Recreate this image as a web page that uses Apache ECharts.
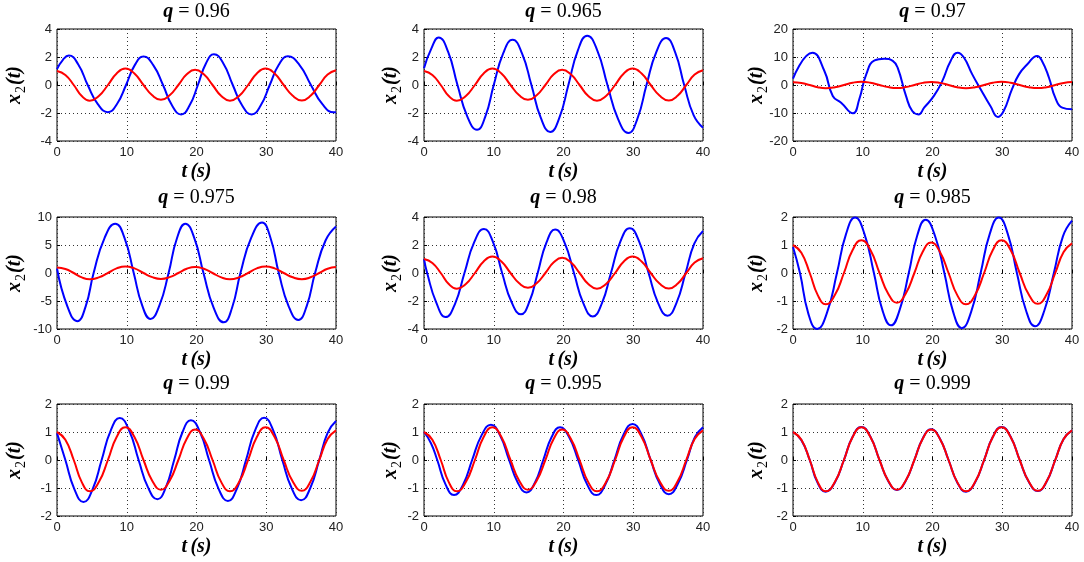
<!DOCTYPE html>
<html><head><meta charset="utf-8">
<script src="https://cdn.jsdelivr.net/npm/echarts@6/dist/echarts.min.js"></script>
<style>html,body{margin:0;padding:0;background:#fff}#c{width:1084px;height:562px}</style>
</head><body><div id="c"></div>
<script>
// ---- data ----
const qLabels = ['0.96', '0.965', '0.97', '0.975', '0.98', '0.985', '0.99', '0.995', '0.999'];
const yMins = [-4, -4, -20, -10, -4, -2, -2, -2, -2];
const yMaxs = [4, 4, 20, 10, 4, 2, 2, 2, 2];
const ySteps = [2, 2, 10, 5, 2, 1, 1, 1, 1];
const xMin = 0, xMax = 40, xStep = 10;

// red (reference) curve [t, x2]
const redCurve = [[0,1.0],[1.2,0.72],[2.4,0],[3.55,-0.79],[4.7,-1.12],[6.0,-0.79],[7.3,0],[8.55,0.82],[9.8,1.17],[11.1,0.82],[12.4,0],[13.65,-0.74],[14.9,-1.06],[16.15,-0.74],[17.4,0],[18.6,0.76],[19.8,1.09],[21.05,0.76],[22.3,0],[23.55,-0.79],[24.8,-1.12],[26.1,-0.79],[27.4,0],[28.65,0.82],[29.9,1.17],[31.2,0.82],[32.5,0],[33.8,-0.77],[35.1,-1.1],[36.35,-0.77],[37.6,0],[38.8,0.75],[40,1.06]];

// blue curves [t, x2]
const blue096 = [[0,1.13],[0.85,1.8],[1.7,2.1],[3.05,1.47],[4.4,0],[5.85,-1.36],[7.3,-1.94],[8.6,-1.36],[9.9,0],[11.15,1.42],[12.4,2.03],[13.8,1.42],[15.2,0],[16.5,-1.47],[17.8,-2.1],[19.0,-1.47],[20.2,0],[21.35,1.54],[22.5,2.2],[23.85,1.54],[25.2,0],[26.55,-1.47],[27.9,-2.1],[29.2,-1.47],[30.5,0],[31.8,1.44],[33.1,2.05],[34.75,1.44],[36.4,0],[38.05,-1.37],[39.7,-1.95],[40,-1.94]];
const blue0965 = [[0,1.2],[1.05,2.6],[2.1,3.4],[3.45,2.38],[4.8,0],[6.2,-2.24],[7.6,-3.2],[8.8,-2.24],[10.0,0],[11.35,2.26],[12.7,3.23],[14.05,2.26],[15.4,0],[16.75,-2.35],[18.1,-3.35],[19.4,-2.35],[20.7,0],[22.05,2.46],[23.4,3.52],[24.85,2.46],[26.3,0],[27.8,-2.4],[29.3,-3.43],[30.6,-2.4],[31.9,0],[33.3,2.35],[34.7,3.35],[36.0,2.35],[37.3,0],[38.65,-2.15],[40,-3.05]];
const blue097 = [[0,2.3],[2.8,11.5],[4.5,5.0],[5.7,-3.9],[6.9,-6.3],[8.6,-10.1],[9.5,-5.1],[10.5,3.8],[11.7,8.8],[13.1,9.4],[14.3,8.6],[15.0,6.2],[16.2,-3.9],[17.1,-9.3],[18.0,-10.5],[18.8,-8.1],[20.2,-3.9],[21.4,1.4],[22.6,8.6],[23.6,11.5],[24.5,9.8],[25.7,3.8],[26.9,-1.5],[28.3,-7.5],[29.4,-11.4],[30.2,-9.3],[31.4,-1.5],[32.4,3.8],[33.6,7.4],[35.0,10.4],[35.7,8.6],[36.7,2.6],[37.6,-4.5],[38.6,-8.1],[40,-8.7]];
const blue0975 = [[0,0.8],[1.5,-6.0],[2.9,-8.6],[4.1,-6.0],[5.25,0],[6.8,6.2],[8.35,8.8],[9.7,6.2],[11.0,0],[12.2,-5.75],[13.4,-8.2],[14.7,-5.75],[16.0,0],[17.2,6.2],[18.4,8.8],[19.7,6.2],[21.0,0],[22.45,-6.2],[23.9,-8.8],[25.1,-6.2],[26.3,0],[27.85,6.3],[29.4,9.0],[30.6,6.3],[31.8,0],[33.2,-5.9],[34.6,-8.4],[35.8,-5.9],[37.0,0],[38.5,5.8],[40,8.3]];
const blue098 = [[0,1.0],[0.45,0],[1.75,-2.1],[3.1,-3.15],[4.45,-2.2],[5.8,0],[7.2,2.2],[8.6,3.15],[9.9,2.2],[11.2,0],[12.55,-2.07],[13.9,-2.95],[15.1,-2.07],[16.3,0],[17.55,2.17],[18.8,3.1],[20.15,2.17],[21.5,0],[22.85,-2.17],[24.2,-3.1],[25.5,-2.17],[26.8,0],[28.15,2.24],[29.5,3.2],[30.85,2.24],[32.2,0],[33.55,-2.13],[34.9,-3.05],[36.2,-2.13],[37.5,0],[38.75,2.1],[40,3.0]];
const blue0985 = [[0,0.93],[1.0,0],[2.2,-1.45],[3.45,-2.0],[4.9,-1.4],[6.3,0],[7.6,1.39],[8.9,1.98],[10.25,1.39],[11.6,0],[12.8,-1.31],[14.05,-1.87],[15.3,-1.31],[16.6,0],[17.8,1.33],[19.0,1.9],[20.35,1.33],[21.7,0],[22.95,-1.38],[24.2,-1.97],[25.55,-1.38],[26.9,0],[28.2,1.39],[29.5,1.98],[30.8,1.39],[32.1,0],[33.4,-1.33],[34.7,-1.9],[36.05,-1.33],[37.4,0],[38.7,1.31],[40,1.87]];
const blue099 = [[0,0.96],[1.2,0],[2.5,-1.05],[3.8,-1.5],[5.1,-1.05],[6.4,0],[7.7,1.05],[9.0,1.5],[10.35,1.05],[11.7,0],[13.05,-0.98],[14.4,-1.4],[15.6,-0.98],[16.8,0],[18.0,1.0],[19.2,1.42],[20.5,1.0],[21.8,0],[23.15,-1.02],[24.5,-1.46],[25.8,-1.02],[27.1,0],[28.4,1.06],[29.7,1.51],[31.0,1.06],[32.3,0],[33.65,-1.01],[35.0,-1.44],[36.3,-1.01],[37.6,0],[38.8,0.97],[40,1.39]];
const blue0995 = [[0,1.0],[1.0,0.6],[1.9,0],[3.1,-0.88],[4.3,-1.25],[5.6,-0.88],[6.9,0],[8.25,0.88],[9.6,1.26],[10.9,0.88],[12.2,0],[13.45,-0.81],[14.7,-1.16],[15.9,-0.81],[17.1,0],[18.3,0.82],[19.5,1.17],[20.8,0.82],[22.1,0],[23.4,-0.88],[24.7,-1.25],[26.0,-0.88],[27.3,0],[28.6,0.9],[29.9,1.29],[31.2,0.9],[32.5,0],[33.8,-0.85],[35.1,-1.22],[36.4,-0.85],[37.7,0],[38.85,0.82],[40,1.17]];
const blue0999 = [[0,1.0],[1.2,0.71],[2.4,0],[3.5,-0.8],[4.65,-1.13],[6.0,-0.8],[7.3,0],[8.55,0.83],[9.8,1.18],[11.1,0.83],[12.4,0],[13.65,-0.75],[14.9,-1.07],[16.15,-0.75],[17.4,0],[18.6,0.77],[19.8,1.1],[21.05,0.77],[22.3,0],[23.55,-0.8],[24.8,-1.13],[26.1,-0.8],[27.4,0],[28.65,0.83],[29.9,1.18],[31.2,0.83],[32.5,0],[33.8,-0.78],[35.1,-1.11],[36.35,-0.78],[37.6,0],[38.8,0.75],[40,1.06]];
const blueCurves = [blue096, blue0965, blue097, blue0975, blue098, blue0985, blue099, blue0995, blue0999];

// ---- layout ----
const colLeft = [57, 424, 793];
const rowTop = [29, 217, 404];
const gw = 279, gh = 112;
const yNameX = [15, 391, 757];
const titleY = [12, 198, 384];
const xNameY = [172, 360, 547];

const serif = '"Liberation Serif", "Times New Roman", serif';
const sans = '"Liberation Sans", Arial, sans-serif';

const grids = [], xAxes = [], yAxes = [], series = [], graphics = [];
for (let i = 0; i < 9; i++) {
  const r = Math.floor(i / 3), c = i % 3;
  grids.push({left: colLeft[c], top: rowTop[r], width: gw, height: gh, show: true,
    borderColor: '#000', borderWidth: 1, backgroundColor: '#fff'});
  const split = {show: true, lineStyle: {type: [1, 3], color: '#333', width: 1}};
  xAxes.push({gridIndex: i, type: 'value', min: xMin, max: xMax, interval: xStep,
    axisLine: {show: false}, axisTick: {show: true, inside: true, length: 3, lineStyle: {color: '#000'}},
    axisLabel: {margin: 5, color: '#222', fontFamily: sans, fontSize: 13},
    splitLine: split});
  yAxes.push({gridIndex: i, type: 'value', min: yMins[i], max: yMaxs[i], interval: ySteps[i],
    axisLine: {show: false}, axisTick: {show: true, inside: true, length: 3, lineStyle: {color: '#000'}},
    axisLabel: {margin: 5, color: '#222', fontFamily: sans, fontSize: 13},
    splitLine: split});
  series.push({type: 'line', xAxisIndex: i, yAxisIndex: i, data: blueCurves[i], showSymbol: false,
    smooth: 0.5, lineStyle: {color: '#0000ff', width: 2}, itemStyle: {color: '#0000ff'}, silent: true});
  series.push({type: 'line', xAxisIndex: i, yAxisIndex: i, data: redCurve, showSymbol: false,
    smooth: 0.5, lineStyle: {color: '#ff0000', width: 2}, itemStyle: {color: '#ff0000'}, silent: true});
  const cx = colLeft[c] + gw / 2;
  graphics.push({type: 'text', x: cx, y: titleY[r], style: {
    text: '{q|q}{n| = ' + qLabels[i] + '}', align: 'center', verticalAlign: 'middle',
    rich: {q: {fontFamily: serif, fontSize: 20, fontWeight: 'bold', fontStyle: 'italic', fill: '#000'},
           n: {fontFamily: serif, fontSize: 20, fill: '#000'}}}});
  graphics.push({type: 'text', x: cx, y: xNameY[r], style: {
    text: '{a|t} {a|(s)}', align: 'center', verticalAlign: 'middle',
    rich: {a: {fontFamily: serif, fontSize: 20, fontWeight: 'bold', fontStyle: 'italic', fill: '#000'}}}});
  graphics.push({type: 'text', x: yNameX[c], y: rowTop[r] + gh / 2, rotation: Math.PI / 2, style: {
    text: '{a|x}{s|2}{a|(t)}', align: 'center', verticalAlign: 'middle',
    rich: {a: {fontFamily: serif, fontSize: 20, fontWeight: 'bold', fontStyle: 'italic', fill: '#000', lineHeight: 26, verticalAlign: 'middle'},
           s: {fontFamily: serif, fontSize: 14, fill: '#000', lineHeight: 26, verticalAlign: 'bottom', padding: [0, 1, 0, 1]}}}});
}

const chart = echarts.init(document.getElementById('c'), null, {renderer: 'canvas'});
chart.setOption({animation: false, backgroundColor: '#fff', grid: grids, xAxis: xAxes, yAxis: yAxes, series: series, graphic: graphics});
</script></body></html>
